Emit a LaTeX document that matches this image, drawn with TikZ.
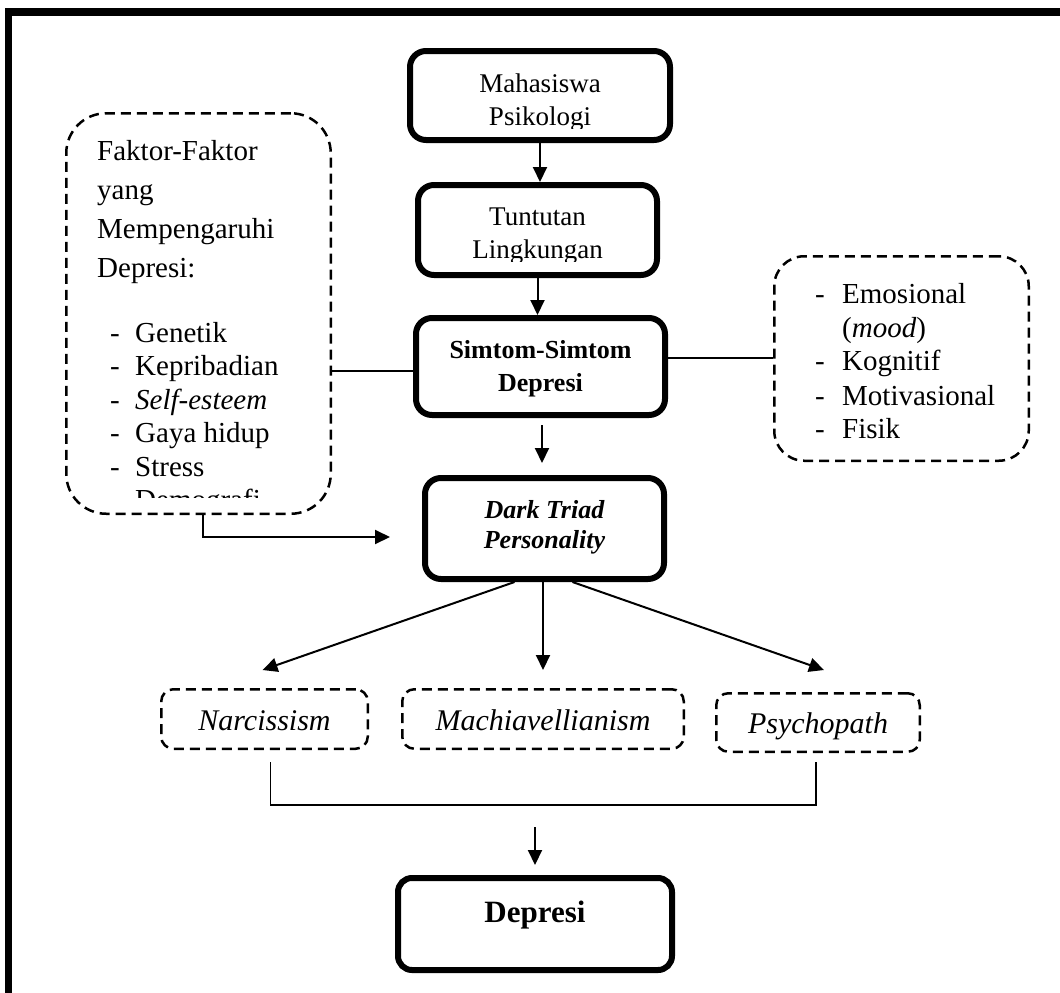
\documentclass[tikz,border=0pt]{standalone}
\usepackage{fontspec}
\setmainfont{Liberation Serif}
\usetikzlibrary{arrows.meta,calc}
\begin{document}
\begin{tikzpicture}[x=1pt,y=-1pt,
  solidbox/.style={draw, line width=6pt, rounded corners=16pt, inner sep=0pt},
  dashbox/.style={draw, line width=2.5pt, dash pattern=on 10pt off 6pt, rounded corners=#1, inner sep=0pt},
  arr/.style={line width=2pt, -{Triangle[width=14pt,length=15pt]}},
  thinline/.style={line width=1.8pt},
  toptext/.style={anchor=base, inner sep=0pt, font=\fontsize{27}{30}\selectfont},
  boldtext/.style={anchor=base, inner sep=0pt, font=\fontsize{26}{30}\selectfont\bfseries},
  bitext/.style={anchor=base, inner sep=0pt, font=\fontsize{26}{30}\selectfont\bfseries\itshape},
  listtext/.style={anchor=base west, inner sep=0pt, font=\fontsize{29}{33}\selectfont},
  ittext/.style={anchor=base, inner sep=0pt, font=\fontsize{30}{33}\selectfont\itshape}
]
\useasboundingbox (0,0) rectangle (1060,993);
% frame
\fill (5,8) rectangle (1060,16);
\fill (5,8) rectangle (12,993);

% solid boxes
\node[solidbox, minimum width=260pt, minimum height=89pt] (mah) at (540,95.5) {};
\node[solidbox, minimum width=239pt, minimum height=90pt] (tun) at (537.5,230) {};
\node[solidbox, minimum width=249pt, minimum height=97pt] (sim) at (540.5,366.5) {};
\node[solidbox, minimum width=239pt, minimum height=101pt] (dt) at (544.5,528.5) {};
\node[solidbox, rounded corners=14pt, minimum width=274pt, minimum height=92pt] (dep) at (535,924) {};

% dashed boxes
\node[dashbox=40pt, minimum width=264.5pt, minimum height=400.5pt] (lbox) at (198.5,313.5) {};
\node[dashbox=30pt, minimum width=254.5pt, minimum height=204.5pt] (rbox) at (901.5,358.5) {};
\node[dashbox=12pt, minimum width=206.5pt, minimum height=59.5pt] (nar) at (264.5,719) {};
\node[dashbox=12pt, minimum width=281.5pt, minimum height=59.5pt] (mach) at (543,719) {};
\node[dashbox=12pt, minimum width=203.5pt, minimum height=58.5pt] (psy) at (818,722.5) {};

% texts in solid boxes
\node[toptext] (t1) at (540,92) {Mahasiswa};
\begin{scope}
  \clip (400,100) rectangle (680,128);
  \node[toptext] (t2) at (540,125) {Psikologi};
\end{scope}
\node[toptext] (t3) at (537.5,225) {Tuntutan};
\begin{scope}
  \clip (400,235) rectangle (680,261);
  \node[toptext] (t4) at (537.5,258) {Lingkungan};
\end{scope}
\node[boldtext] (t5) at (540.5,358) {Simtom-Simtom};
\node[boldtext] (t6) at (540.5,391) {Depresi};
\node[bitext] (t7) at (544.5,518) {Dark Triad};
\node[bitext] (t8) at (544.5,548) {Personality};
\node[anchor=base, inner sep=0pt, font=\fontsize{31}{34}\selectfont\bfseries] (t9) at (535,922) {Depresi};

% left box text
\node[listtext] (l1) at (97,160) {Faktor-Faktor};
\node[listtext] (l2) at (97,199) {yang};
\node[listtext] (l3) at (97,238) {Mempengaruhi};
\node[listtext] (l4) at (97,277) {Depresi:};
\node[listtext] (d1) at (110,342) {-};
\node[listtext] (i1) at (135,342) {Genetik};
\node[listtext] (d2) at (110,375.5) {-};
\node[listtext] (i2) at (135,375.5) {Kepribadian};
\node[listtext] (d3) at (110,409) {-};
\node[listtext] (i3) at (135,409) {\itshape Self-esteem};
\node[listtext] (d4) at (110,442.5) {-};
\node[listtext] (i4) at (135,442.5) {Gaya hidup};
\node[listtext] (d5) at (110,476) {-};
\node[listtext] (i5) at (135,476) {Stress};
\begin{scope}
  \clip (90,485) rectangle (330,497);
  \node[listtext] (d6) at (110,509.5) {-};
  \node[listtext] (i6) at (135,509.5) {Demografi};
\end{scope}

% right box text
\node[listtext] (rd1) at (815,303) {-};
\node[listtext] (r1) at (842,303) {Emosional};
\node[listtext] (r1b) at (842,337) {(\textit{mood})};
\node[listtext] (rd2) at (815,370) {-};
\node[listtext] (r2) at (842,370) {Kognitif};
\node[listtext] (rd3) at (815,405) {-};
\node[listtext] (r3) at (842,405) {Motivasional};
\node[listtext] (rd4) at (815,438) {-};
\node[listtext] (r4) at (842,438) {Fisik};

% bottom texts
\node[ittext] (n1) at (264.5,730) {Narcissism};
\node[ittext] (n2) at (543,730) {Machiavellianism};
\node[ittext] (n3) at (818,733) {Psychopath};

% connectors
\draw[arr] (mah.south) -- (mah.south |- tun.north);
\draw[arr] (tun.south) -- (tun.south |- sim.north);
\draw[arr] ($(sim.south)+(1.5,7)$) -- ($(sim.south |- dt.north)+(1.5,-12)$);

\coordinate (ly) at (0,371);
\draw[thinline] (lbox.east |- ly) -- (sim.west |- ly);
\coordinate (ry) at (0,358);
\draw[thinline] (sim.east |- ry) -- (rbox.west |- ry);

\draw[arr] ($(lbox.south)+(4,0)$) |- ($(dt.west)+(-32,8.5)$);

\draw[arr] ($(dt.south)+(-30,0)$) -- ($(nar.north)+(-2,-18)$);
\draw[arr] ($(dt.south)+(-1.5,0)$) -- ($(dt.south |- mach.north)+(-1.5,-18)$);
\draw[arr] ($(dt.south)+(28,0)$) -- ($(psy.north)+(6,-22)$);

\draw[thinline] ($(nar.south)+(6,12)$) -- ++(0,43) -| ($(psy.south)+(-2,9)$);
\draw[arr] ($(dep.north)+(0,-48)$) -- ($(dep.north)+(0,-10)$);
\end{tikzpicture}
\end{document}
